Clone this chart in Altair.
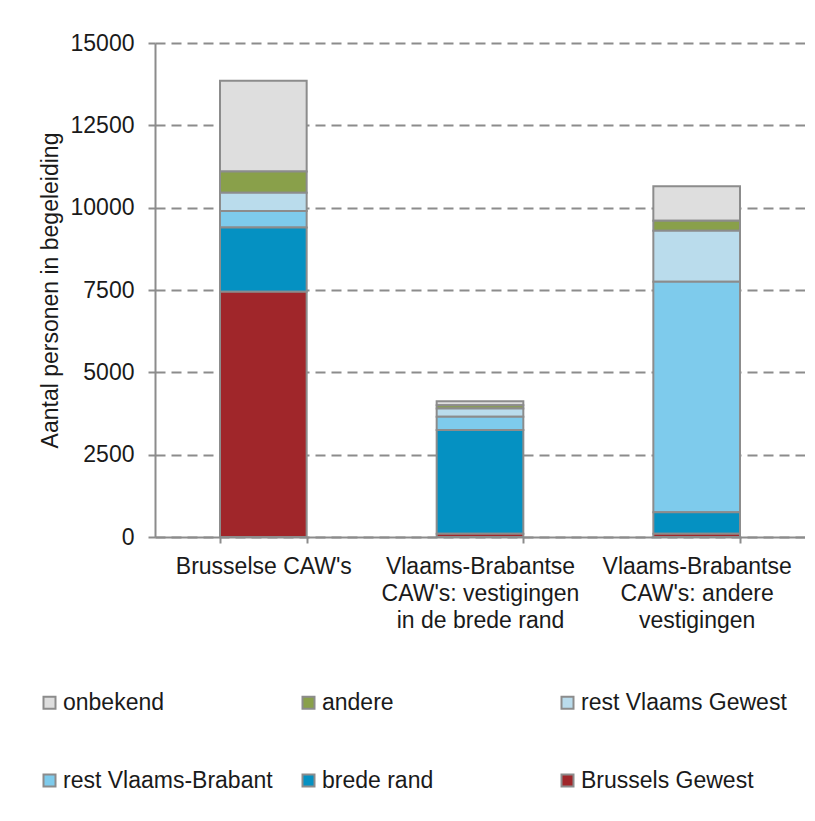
import altair as alt
import pandas as pd

categories = ["Brusselse CAW's",
              "Vlaams-Brabantse|CAW's: vestigingen|in de brede rand",
              "Vlaams-Brabantse|CAW's: andere|vestigingen"]
# stacking order, top to bottom
series = ["onbekend", "andere", "rest Vlaams Gewest", "rest Vlaams-Brabant", "brede rand", "Brussels Gewest"]
colors = ["#dedede", "#89a04a", "#badcec", "#7ecbec", "#0591c2", "#a0262a"]
# legend reading order (filled column by column, 2 rows)
legend_order = ["onbekend", "rest Vlaams-Brabant", "andere", "brede rand", "rest Vlaams Gewest", "Brussels Gewest"]

onbekend = [2750, 120, 1050]
andere = [650, 100, 300]
rest_vlaams_gewest = [550, 250, 1550]
rest_vlaams_brabant = [500, 400, 7000]
brede_rand = [1950, 3150, 650]
brussels_gewest = [7450, 100, 100]

values = [onbekend, andere, rest_vlaams_gewest, rest_vlaams_brabant, brede_rand, brussels_gewest]
rows = []
for si, (s, vals) in enumerate(zip(series, values)):
    for c, v in zip(categories, vals):
        rows.append({"cat": c, "series": s, "value": v, "order": len(series) - 1 - si})
df = pd.DataFrame(rows)
color_map = dict(zip(series, colors))

FONT = "Liberation Sans"
GRAY = "#8c8c8c"
TXT = "#1a1a1a"
FS = 23

chart = alt.Chart(df).mark_bar(stroke=GRAY, strokeWidth=2).encode(
    x=alt.X("cat:N", sort=categories, title=None,
            scale=alt.Scale(paddingInner=0.6, paddingOuter=0.3),
            axis=alt.Axis(labelExpr="split(datum.label, '|')", labelAngle=0,
                          labelFontSize=FS, labelFont=FONT, labelColor=TXT, labelLimit=400,
                          labelLineHeight=27, labelPadding=12,
                          tickBand="extent", tickSize=6, tickColor=GRAY, tickWidth=2,
                          domainColor=GRAY, domainWidth=2, grid=False)),
    y=alt.Y("value:Q", stack="zero", title="Aantal personen in begeleiding",
            scale=alt.Scale(domain=[0, 15000], nice=False),
            axis=alt.Axis(values=[0, 2500, 5000, 7500, 10000, 12500, 15000],
                          format="d", labelFontSize=FS, labelFont=FONT, labelColor=TXT,
                          labelPadding=14, tickSize=7, tickColor=GRAY, tickWidth=2,
                          domainColor=GRAY, domainWidth=2,
                          grid=True, gridColor=GRAY, gridWidth=2, gridDash=[10, 6],
                          titleFontSize=FS, titleFont=FONT, titleColor=TXT,
                          titleFontWeight="normal", titlePadding=8)),
    color=alt.Color("series:N",
                    scale=alt.Scale(domain=legend_order, range=[color_map[s] for s in legend_order]),
                    legend=alt.Legend(title=None, orient="none", legendX=-117, legendY=648,
                                      columns=3, gridAlign="all", columnPadding=24,
                                      rowPadding=54, symbolType="square", symbolSize=144,
                                      symbolStrokeColor=GRAY, symbolStrokeWidth=2,
                                      symbolOpacity=1, labelFontSize=FS, labelFont=FONT,
                                      labelColor=TXT, labelOffset=2, labelLimit=400)),
    order=alt.Order("order:Q", sort="ascending"),
).properties(
    width=650, height=494,
    autosize=alt.AutoSizeParams(type="none"),
    padding={"left": 147, "top": 35, "right": 0, "bottom": 270},
    background="white",
).configure_view(stroke=None)

chart.save("out.html", embed_options={"renderer": "svg", "actions": False})
